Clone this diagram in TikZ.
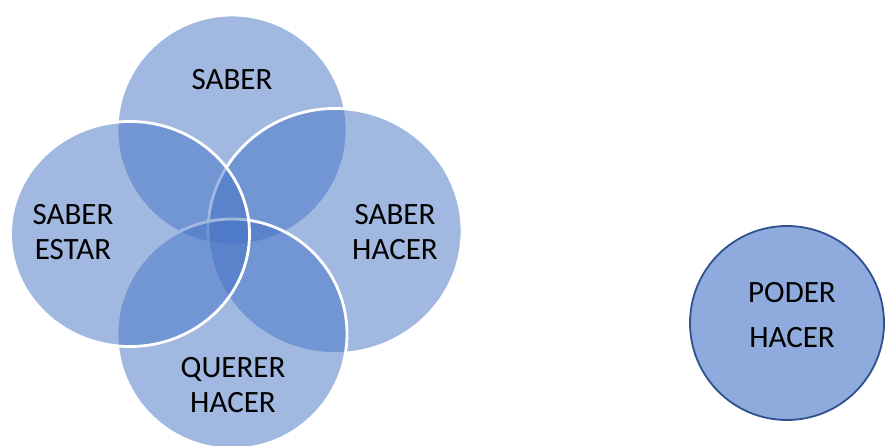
\documentclass[tikz,border=0pt]{standalone}
\usepackage{fontspec}
\setmainfont{Carlito}
\usetikzlibrary{shapes.geometric,positioning}
\definecolor{setblue}{HTML}{4472C4}
\definecolor{lonefill}{HTML}{8FAADC}
\definecolor{loneline}{HTML}{2F528F}

\begin{document}
\begin{tikzpicture}[
    x=1pt, y=-1pt,
    venn/.style={ellipse, fill=setblue, fill opacity=0.5, draw=white, line width=2.8pt, inner sep=0pt},
    word/.style={font=\fontsize{31}{35}\selectfont, align=center, text=black},
    lone/.style={circle, fill=lonefill, draw=loneline, line width=1.8pt, minimum size=194pt, inner sep=0pt}
]
    \useasboundingbox (0,0) rectangle (885,446);

    % Four overlapping sets
    \node[venn, minimum width=230pt, minimum height=230pt] (saber) at (232,130) {};
    \node[venn, minimum width=254pt, minimum height=245pt] (hacer) at (335,231) {};
    \node[venn, minimum width=230pt, minimum height=230pt] (querer) at (232,334) {};
    \node[venn, minimum width=239pt, minimum height=225pt] (estar) at (130,234) {};

    % Set labels
    \node[word] (saberlbl) at (232,80) {SABER};
    \node[word] (estarlbl) at (73,232) {SABER\\ESTAR};
    \node[word] (hacerlbl) at (395,232) {SABER\\HACER};
    \node[word] (quererlbl) at (233,385) {QUERER\\HACER};

    % Separate circle
    \node[lone] (poder) at (787,323) {};
    \node[word, font=\fontsize{31}{45}\selectfont] (poderlbl) at (792,315) {PODER\\HACER};
\end{tikzpicture}
\end{document}
